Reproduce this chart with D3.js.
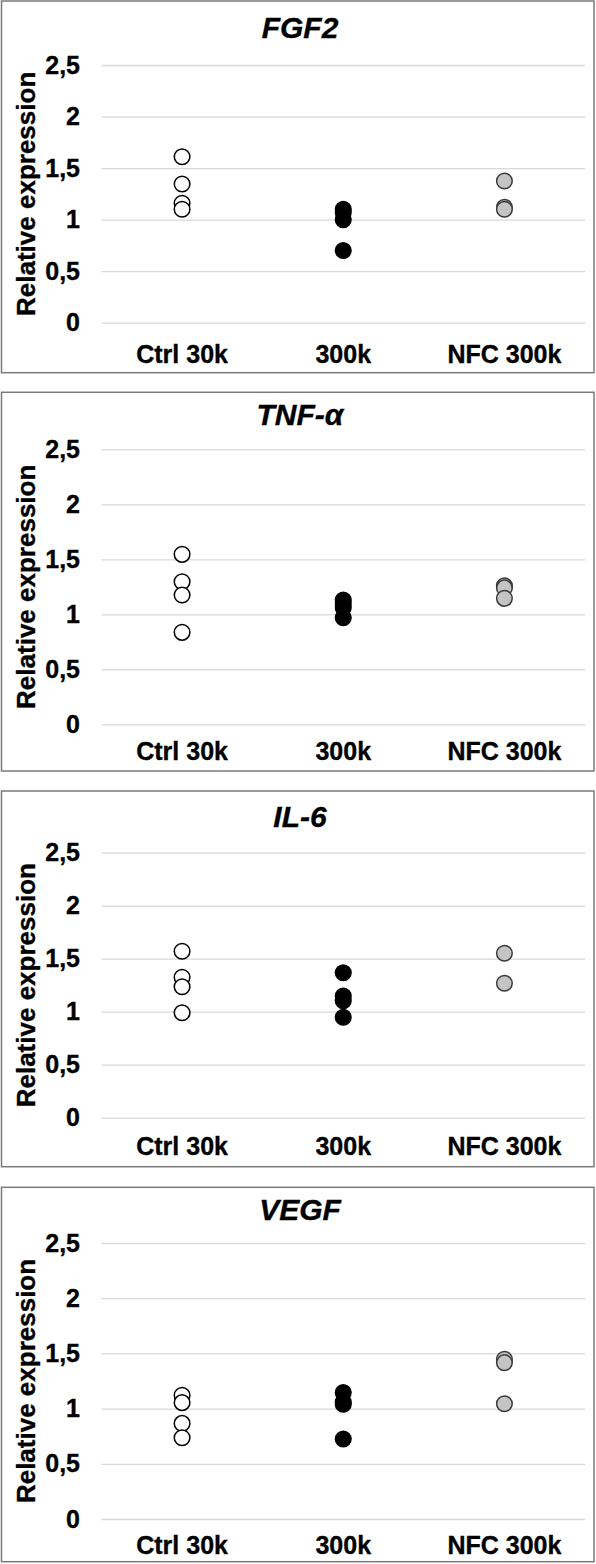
<!DOCTYPE html>
<html>
<head>
<meta charset="utf-8">
<script src="https://cdn.jsdelivr.net/npm/d3@7"></script>
<style>
  html, body { margin: 0; padding: 0; background: #fff; }
  svg { display: block; }
  text { font-family: "Liberation Sans", Arial, sans-serif; font-weight: bold; fill: #000; stroke: #000; stroke-width: 0.35px; }
</style>
</head>
<body>
<svg id="chart" width="596" height="1564"></svg>
<script>
// ---- data ----
const categories = ["Ctrl 30k", "300k", "NFC 300k"];
const genes = ["FGF2", "TNF-α", "IL-6", "VEGF"];
const yTicks = [0, 0.5, 1, 1.5, 2, 2.5];
const yTickLabels = ["0", "0,5", "1", "1,5", "2", "2,5"];
const yTitle = "Relative expression";

const fgf2Ctrl = [1.61, 1.345, 1.158, 1.10];
const fgf2_300k = [1.10, 1.07, 1.00, 0.70];
const fgf2Nfc = [1.374, 1.12, 1.10];

const tnfCtrl = [1.545, 1.296, 1.175, 0.836];
const tnf_300k = [1.13, 1.10, 1.06, 0.97];
const tnfNfc = [1.26, 1.24, 1.145];

const il6Ctrl = [1.57, 1.325, 1.236, 0.99];
const il6_300k = [1.368, 1.148, 1.104, 0.947];
const il6Nfc = [1.551, 1.268];

const vegfCtrl = [1.12, 1.054, 0.866, 0.736];
const vegf_300k = [1.145, 1.06, 1.04, 0.725];
const vegfNfc = [1.447, 1.416, 1.044];

const seriesByGene = [
  [fgf2Ctrl, fgf2_300k, fgf2Nfc],
  [tnfCtrl, tnf_300k, tnfNfc],
  [il6Ctrl, il6_300k, il6Nfc],
  [vegfCtrl, vegf_300k, vegfNfc]
];

// ---- layout (positions only) ----
const frames = [
  { top: 1,      bottom: 372.7,  titleY: 38,     plotTop: 65,     plotBottom: 322.7,  labelY: 363 },
  { top: 392.3,  bottom: 771,    titleY: 425,    plotTop: 449.3,  plotBottom: 724.3,  labelY: 760 },
  { top: 791,    bottom: 1166.7, titleY: 826.7,  plotTop: 852.7,  plotBottom: 1117.7, labelY: 1155 },
  { top: 1187.3, bottom: 1561.7, titleY: 1220,   plotTop: 1243,   plotBottom: 1519,   labelY: 1554 }
];
const plotLeft = 101.5, plotRight = 585;
const catStyles = [
  { fill: "#ffffff", stroke: "#000000" },
  { fill: "#000000", stroke: "#000000" },
  { fill: "#c4c4c4", stroke: "#3a3a3a" }
];

const svg = d3.select("#chart");
const x = d3.scaleBand().domain(categories).range([plotLeft, plotRight]);

genes.forEach((gene, gi) => {
  const f = frames[gi];
  const g = svg.append("g");

  // border
  g.append("rect")
    .attr("x", 1.5).attr("y", f.top)
    .attr("width", 592.5).attr("height", f.bottom - f.top)
    .attr("fill", "none").attr("stroke", "#7a7a7a").attr("stroke-width", 1.5);

  const y = d3.scaleLinear().domain([0, 2.5]).range([f.plotBottom, f.plotTop]);

  // gridlines
  const grid = g.append("g").attr("transform", `translate(${plotLeft},0)`)
    .call(d3.axisLeft(y).tickValues(yTicks).tickSize(-(plotRight - plotLeft)).tickFormat(""));
  grid.select(".domain").remove();
  grid.selectAll(".tick line").attr("stroke", "#d9d9d9").attr("stroke-width", 1.3);

  // y tick labels
  const ya = g.append("g").attr("transform", "translate(80,0)")
    .call(d3.axisLeft(y).tickValues(yTicks).tickSize(0).tickPadding(0)
      .tickFormat(d => yTickLabels[yTicks.indexOf(d)]));
  ya.select(".domain").remove();
  ya.selectAll("text").attr("font-size", 25).attr("font-family", null).attr("fill", "#000");

  // x labels
  const xa = g.append("g").attr("transform", `translate(0,${f.labelY})`)
    .call(d3.axisBottom(x).tickSize(0).tickPadding(0));
  xa.select(".domain").remove();
  xa.selectAll("text").attr("font-size", 25).attr("font-family", null).attr("fill", "#000").attr("dy", 0);

  // y title
  g.append("text")
    .attr("transform", `translate(35,${(f.plotTop + f.plotBottom) / 2}) rotate(-90)`)
    .attr("text-anchor", "middle")
    .attr("font-size", 26)
    .text(yTitle);

  // title
  g.append("text")
    .attr("x", 300).attr("y", f.titleY)
    .attr("text-anchor", "middle")
    .attr("font-size", 30).attr("font-style", "italic")
    .text(gene);

  // points
  seriesByGene[gi].forEach((vals, ci) => {
    g.append("g").selectAll("circle").data(vals).join("circle")
      .attr("cx", x(categories[ci]) + x.bandwidth() / 2)
      .attr("cy", d => y(d))
      .attr("r", 7.8)
      .attr("fill", catStyles[ci].fill)
      .attr("stroke", catStyles[ci].stroke)
      .attr("stroke-width", 1.5);
  });
});
</script>
</body>
</html>
